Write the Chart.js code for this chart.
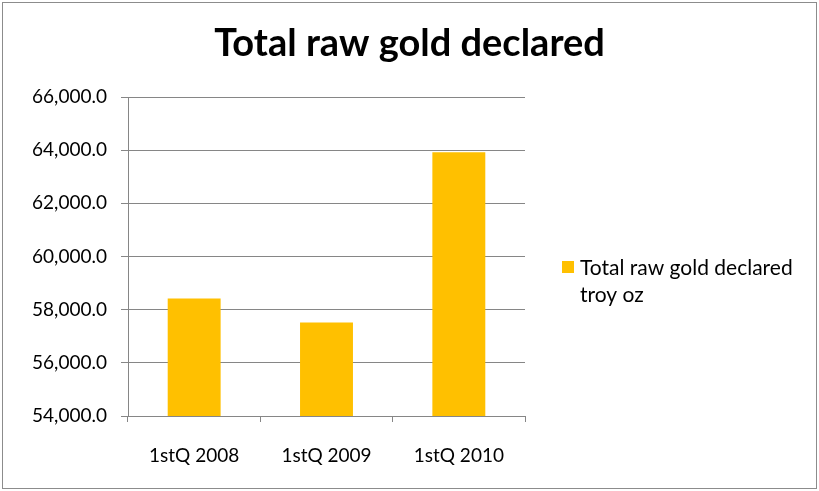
<!DOCTYPE html>
<html lang="en">
<head>
	<meta charset="utf-8">
	<title>Total raw gold declared</title>
	<script src="https://cdn.jsdelivr.net/npm/chart.js"></script>
	<style>
		html, body { margin: 0; padding: 0; background: #fff; }
		#wrap { width: 819px; height: 491px; position: relative; }
	</style>
</head>
<body>
	<div id="wrap"><canvas id="gold"></canvas></div>
	<script>
		// values
		const quarters = ["1stQ 2008", "1stQ 2009", "1stQ 2010"];
		const goldDeclared = [58420, 57520, 63920];
		const chartTitle = "Total raw gold declared";
		const seriesName = "Total raw gold declared troy oz";
		const legendLines = ["Total raw gold declared", "troy oz"];
		const yMin = 54000, yMax = 66000, yStep = 2000;

		const FONT = "Lato, 'DejaVu Sans', sans-serif";
		const GOLD = "#ffc000";
		const GRID = "#868686";

		// outer frame, centred title and wrapped legend on the right
		const frameAndLegend = {
			id: 'frameAndLegend',
			beforeDraw(chart) {
				const ctx = chart.ctx;
				ctx.save();
				ctx.fillStyle = '#fff';
				ctx.fillRect(0, 0, chart.width, chart.height);
				ctx.strokeStyle = '#8c8c8c';
				ctx.lineWidth = 1;
				ctx.strokeRect(2.5, 2.5, chart.width - 5, chart.height - 5);
				ctx.restore();
			},
			afterDraw(chart) {
				const ctx = chart.ctx;
				ctx.save();
				ctx.fillStyle = '#000';
				ctx.font = "bold 38px " + FONT;
				ctx.textAlign = 'center';
				ctx.textBaseline = 'middle';
				ctx.fillText(chartTitle, chart.width / 2, 44);

				ctx.textAlign = 'left';
				ctx.fillStyle = GOLD;
				ctx.fillRect(562, 261, 12, 12);
				ctx.fillStyle = '#000';
				ctx.font = "21px " + FONT;
				legendLines.forEach((t, i) => ctx.fillText(t, 580, 268 + i * 27));
				ctx.restore();
			}
		};

		new Chart(document.getElementById('gold'), {
			type: 'bar',
			data: {
				labels: quarters,
				datasets: [{
					label: seriesName,
					data: goldDeclared,
					backgroundColor: GOLD,
					barPercentage: 0.4,
					categoryPercentage: 1.0
				}]
			},
			options: {
				responsive: true,
				maintainAspectRatio: false,
				animation: false,
				layout: { padding: { left: 0, right: 294, top: 97, bottom: 0 } },
				plugins: {
					legend: { display: false },
					tooltip: { enabled: false },
					title: { display: false }
				},
				scales: {
					x: {
						offset: true,
						afterFit: s => { s.height = 75; },
						grid: { display: true, drawOnChartArea: false, offset: true, color: GRID, tickLength: 6 },
						border: { color: GRID },
						ticks: { color: '#000', font: { family: FONT, size: 19 }, padding: 22 }
					},
					y: {
						min: yMin,
						max: yMax,
						afterFit: s => { s.width = 128; },
						ticks: {
							stepSize: yStep,
							color: '#000',
							font: { family: FONT, size: 19 },
							padding: 14,
							callback: v => v.toLocaleString('en-US', { minimumFractionDigits: 1, maximumFractionDigits: 1 })
						},
						grid: { color: GRID, tickLength: 7 },
						border: { color: GRID }
					}
				}
			},
			plugins: [frameAndLegend]
		});
	</script>
</body>
</html>
